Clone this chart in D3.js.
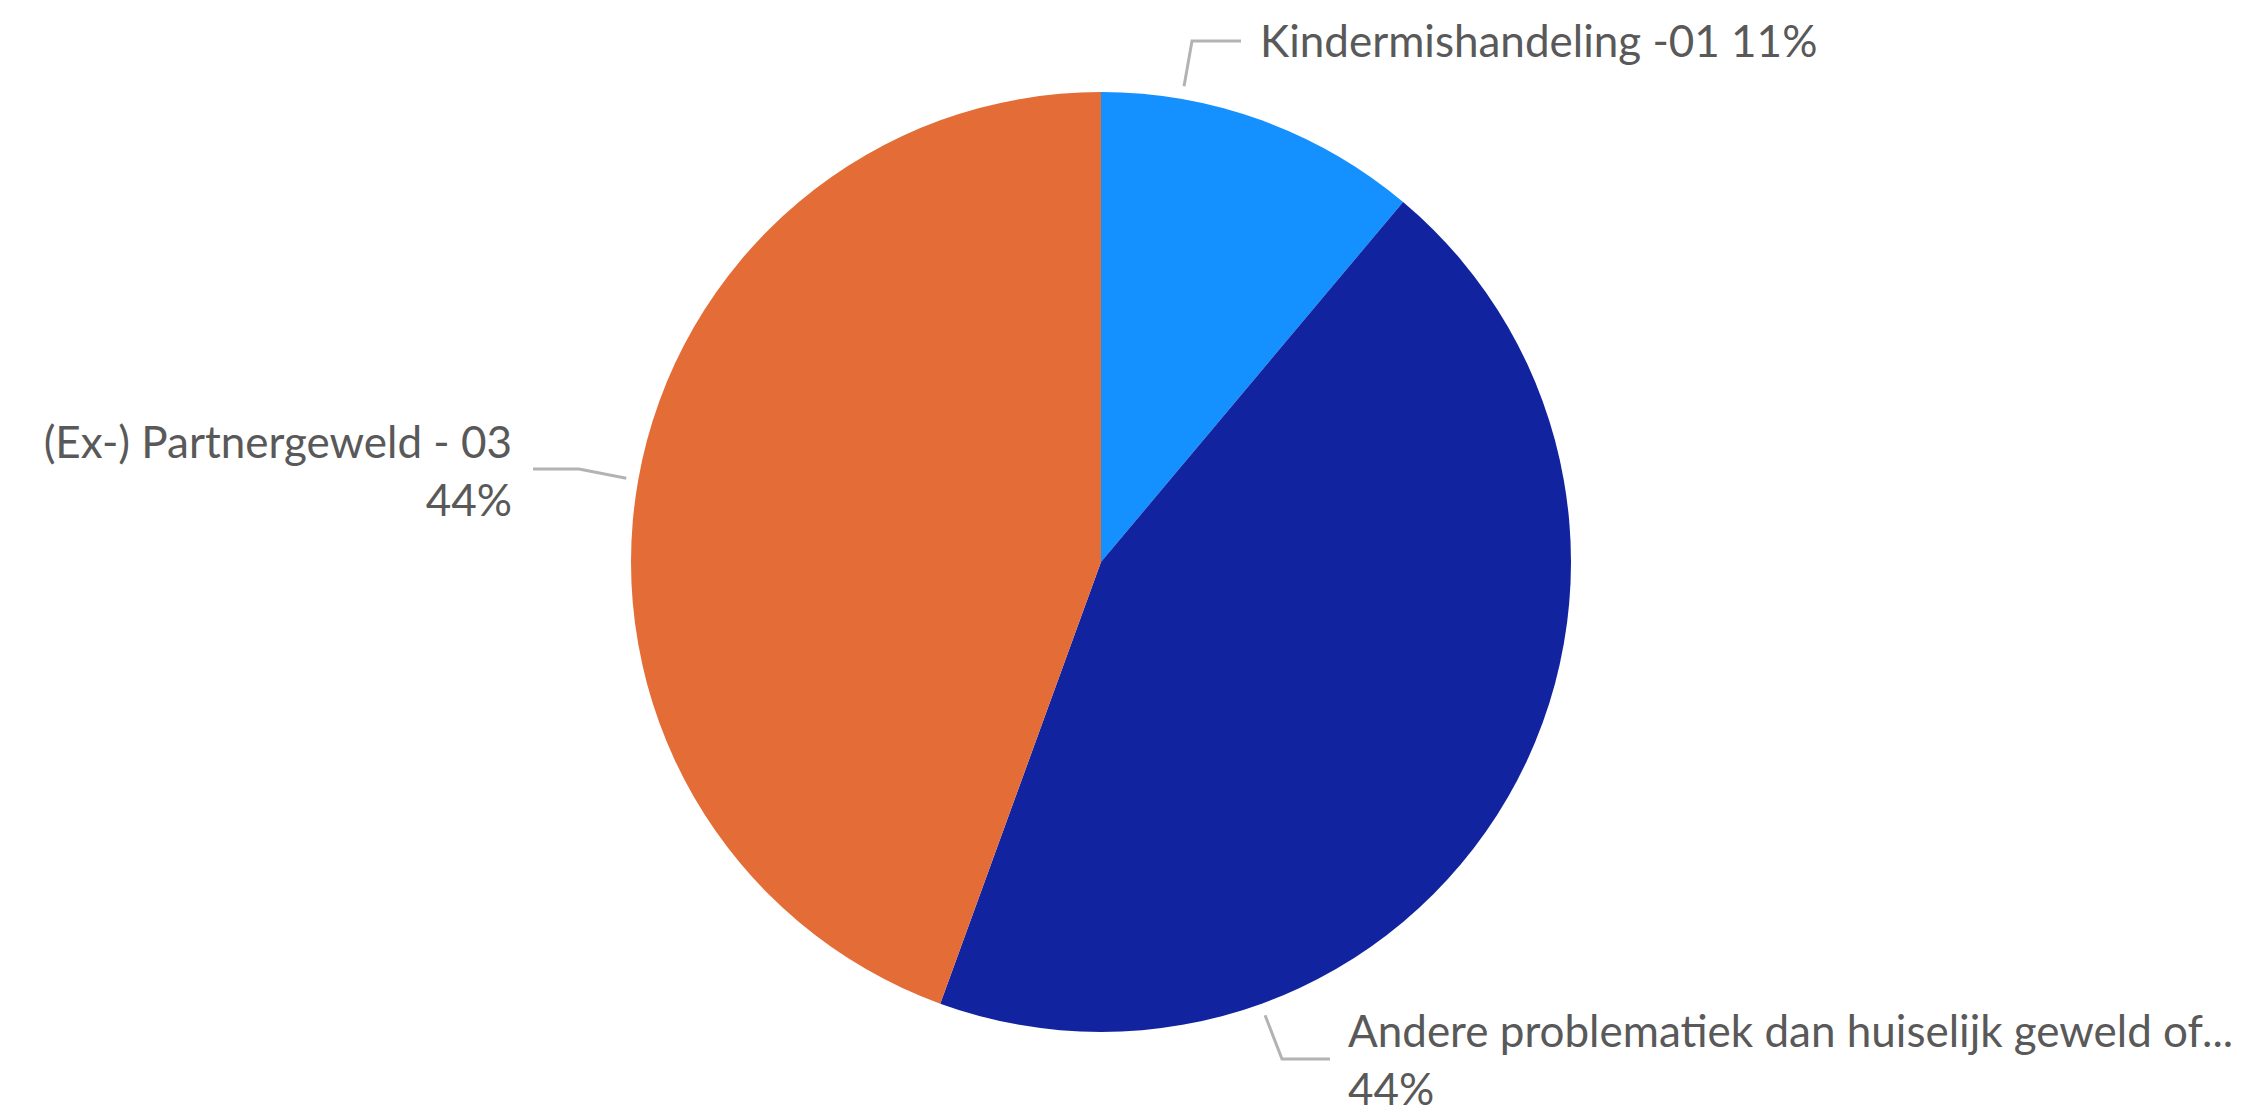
<!DOCTYPE html>
<html>
<head>
<meta charset="utf-8">
<script src="https://cdn.jsdelivr.net/npm/d3@7"></script>
<style>
  html, body { margin: 0; padding: 0; background: #ffffff; }
  svg { display: block; }
  text { font-family: Lato, "Open Sans", sans-serif; fill: #595959; }
</style>
</head>
<body>
<svg id="chart" width="2251" height="1116"></svg>
<script>
// ---- data ----
const categories = ["Kindermishandeling -01", "Andere problematiek dan huiselijk geweld of...", "(Ex-) Partnergeweld - 03"];
const values = [1, 4, 4];
const colors = ["#1490FF", "#11239F", "#E46C37"];

// ---- layout ----
const W = 2251, H = 1116;
const cx = 1101, cy = 562, R = 470;
const fontSize = 44;
const lineGap = 58;

// label layout: leader start angle (deg, clockwise from top), start radius, elbow, end, text anchor
const labelLayout = [
  { startAngle: 9.9,  startR: 483, elbow: [1192, 41],  end: [1241, 41],  tx: 1260, ty: 57,   anchor: "start", wrap: false },
  { startAngle: 160.1, startR: 482, elbow: [1282, 1059], end: [1330, 1059], tx: 1348, ty: 1047, anchor: "start", wrap: true },
  { startAngle: 280,  startR: 482, elbow: [579, 469],  end: [533, 469],  tx: 512,  ty: 458,  anchor: "end",   wrap: true }
];

const svg = d3.select("#chart");
const g = svg.append("g").attr("transform", `translate(${cx},${cy})`);

const total = d3.sum(values);
const pie = d3.pie().sort(null).value(d => d)(values);
const arc = d3.arc().innerRadius(0).outerRadius(R);

g.selectAll("path.slice")
  .data(pie)
  .enter().append("path")
  .attr("class", "slice")
  .attr("d", arc)
  .attr("fill", (d, i) => colors[i]);

const pct = d3.format(".0%");

labelLayout.forEach((L, i) => {
  const a = L.startAngle * Math.PI / 180;
  const sx = cx + L.startR * Math.sin(a);
  const sy = cy - L.startR * Math.cos(a);
  svg.append("polyline")
    .attr("points", [[sx, sy], L.elbow, L.end].map(p => p.join(",")).join(" "))
    .attr("fill", "none")
    .attr("stroke", "#B3B3B3")
    .attr("stroke-width", 3);

  const p = pct(values[i] / total);
  const t = svg.append("text")
    .attr("x", L.tx)
    .attr("y", L.ty)
    .attr("text-anchor", L.anchor)
    .style("font-size", fontSize + "px");
  if (L.wrap) {
    t.append("tspan").attr("x", L.tx).attr("y", L.ty).text(categories[i]);
    t.append("tspan").attr("x", L.tx).attr("y", L.ty + lineGap).text(p);
  } else {
    t.text(categories[i] + " " + p);
  }
});
</script>
</body>
</html>
